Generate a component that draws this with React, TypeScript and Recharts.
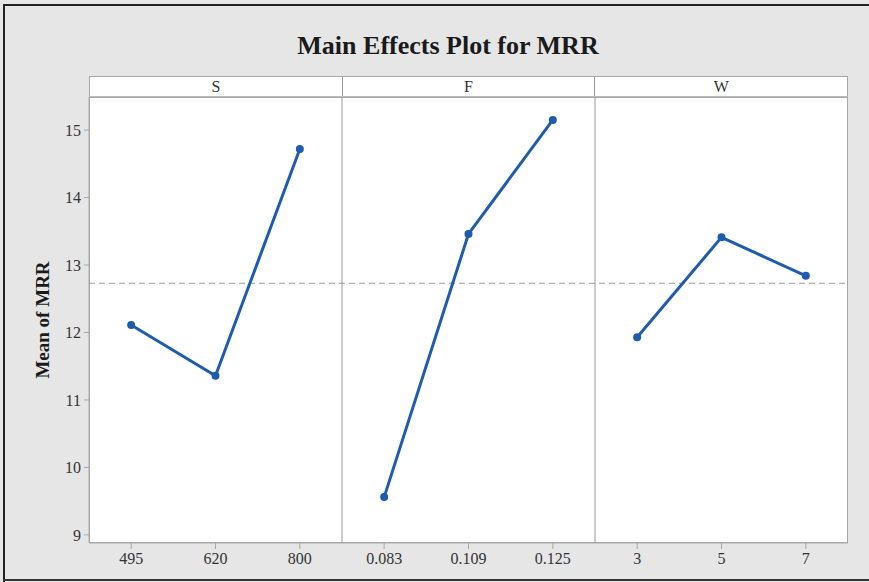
import React from 'react';
import { LineChart, Line, XAxis, YAxis, ReferenceLine } from 'recharts';

const panelNames = ['S', 'F', 'W'];
const sLevels = ['495', '620', '800'];
const sMeans = [12.11, 11.36, 14.72];
const fLevels = ['0.083', '0.109', '0.125'];
const fMeans = [9.56, 13.46, 15.15];
const wLevels = ['3', '5', '7'];
const wMeans = [11.93, 13.41, 12.84];
const grandMean = 12.73;
const yTicks = [9, 10, 11, 12, 13, 14, 15];
const yDomain = [8.88, 15.49];

const panels = [
  { name: panelNames[0], levels: sLevels, means: sMeans },
  { name: panelNames[1], levels: fLevels, means: fMeans },
  { name: panelNames[2], levels: wLevels, means: wMeans },
];

const data: any[] = [];
panels.forEach((p) => {
  p.levels.forEach((lv, i) => {
    const row: any = { key: p.name + '-' + lv, label: lv };
    row[p.name] = p.means[i];
    data.push(row);
  });
});

const FONT = '"Liberation Serif", "Times New Roman", serif';
const BLUE = '#1f5cae';
const GRAY = '#a8a8a8';

export default function App() {
  return (
    <div
      style={{
        position: 'absolute',
        left: 0,
        top: 0,
        width: 869,
        height: 582,
        background: '#e6e6e6',
        fontFamily: FONT,
        overflow: 'hidden',
      }}
    >
      <div style={{ position: 'absolute', left: 3, top: 4, width: 866, height: 2, background: '#222' }} />
      <div style={{ position: 'absolute', left: 3, top: 4, width: 2, height: 578, background: '#222' }} />
      <div style={{ position: 'absolute', left: 3, top: 579, width: 866, height: 2, background: '#333' }} />
      <div
        style={{
          position: 'absolute',
          left: 248,
          top: 29,
          width: 400,
          textAlign: 'center',
          fontSize: 26,
          fontWeight: 'bold',
          color: '#1a1a1a',
          lineHeight: '34px',
        }}
      >
        Main Effects Plot for MRR
      </div>
      <div
        style={{
          position: 'absolute',
          left: 89,
          top: 97,
          width: 759,
          height: 446,
          boxSizing: 'border-box',
          border: '1px solid ' + GRAY,
          background: '#fff',
        }}
      />
      <div style={{ position: 'absolute', left: 0, top: 0 }}>
        <LineChart width={869} height={582} data={data} margin={{ top: 97, right: 21, bottom: 9, left: 39 }}>
          <XAxis
            xAxisId="c"
            dataKey="key"
            scale="band"
            height={30}
            tickFormatter={(v: string) => v.split('-').slice(1).join('-')}
            interval={0}
            tick={{ fill: '#333', fontSize: 16, fontFamily: FONT }}
            tickSize={6}
            tickMargin={4}
            axisLine={{ stroke: GRAY }}
            tickLine={{ stroke: GRAY }}
          />
          <YAxis
            type="number"
            domain={yDomain}
            allowDataOverflow
            ticks={yTicks}
            width={50}
            tick={{ fill: '#333', fontSize: 16, fontFamily: FONT }}
            tickSize={5}
            tickMargin={3}
            axisLine={{ stroke: GRAY }}
            tickLine={{ stroke: GRAY }}
            label={{
              value: 'Mean of MRR',
              angle: -90,
              position: 'center',
              dx: -22,
              style: { fontFamily: FONT, fontSize: 19, fontWeight: 'bold', fill: '#1a1a1a' },
            }}
          />
          <ReferenceLine xAxisId="c" x={'F-' + fLevels[0]} position="start" stroke="#9a9a9a" strokeWidth={1} />
          <ReferenceLine xAxisId="c" x={'W-' + wLevels[0]} position="start" stroke="#9a9a9a" strokeWidth={1} />
          <ReferenceLine xAxisId="c" y={grandMean} stroke="#9a9a9a" strokeWidth={1.2} strokeDasharray="6 4" />
          {panelNames.map((n) => (
            <Line
              key={n}
              xAxisId="c"
              type="linear"
              dataKey={n}
              stroke={BLUE}
              strokeWidth={3}
              dot={{ r: 4, fill: BLUE, stroke: BLUE, strokeWidth: 0 }}
              activeDot={false}
              connectNulls={false}
              isAnimationActive={false}
            />
          ))}
        </LineChart>
      </div>
      <div
        style={{
          position: 'absolute',
          left: 89,
          top: 76,
          width: 759,
          height: 21,
          boxSizing: 'border-box',
          border: '1px solid ' + GRAY,
          borderBottom: '1px solid #bbb',
          background: '#fff',
          display: 'flex',
        }}
      >
        {panelNames.map((n, i) => (
          <div
            key={n}
            style={{
              flex: 1,
              borderLeft: i === 0 ? 'none' : '1px solid #9a9a9a',
              textAlign: 'center',
              fontSize: 16,
              lineHeight: '19px',
              color: '#333',
            }}
          >
            {n}
          </div>
        ))}
      </div>
    </div>
  );
}
